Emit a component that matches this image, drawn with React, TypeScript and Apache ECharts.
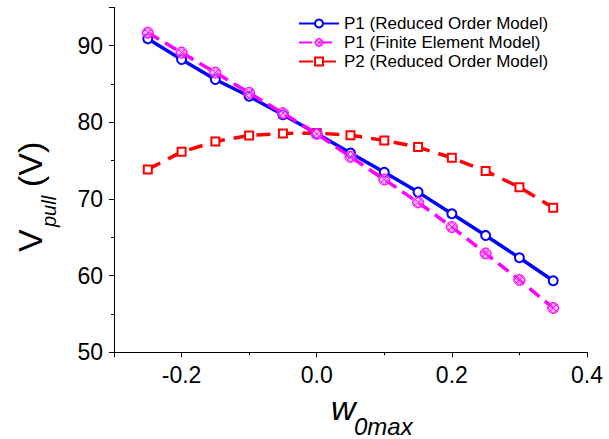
import React, { useEffect, useRef } from 'react';
import * as echarts from 'echarts';

const xValues = [-0.25, -0.2, -0.15, -0.1, -0.05, 0, 0.05, 0.1, 0.15, 0.2, 0.25, 0.3, 0.35];
const p1Rom = [90.9, 88.2, 85.6, 83.4, 81.0, 78.55, 76.0, 73.5, 70.9, 68.07, 65.25, 62.33, 59.34];
const p1Fem = [91.7, 89.1, 86.5, 83.85, 81.2, 78.5, 75.5, 72.55, 69.56, 66.34, 62.9, 59.43, 55.78];
const p2Rom = [73.86, 76.15, 77.5, 78.3, 78.55, 78.6, 78.33, 77.64, 76.77, 75.37, 73.64, 71.55, 68.85];
const seriesNames = ['P1 (Reduced Order Model)', 'P1 (Finite Element Model)', 'P2 (Reduced Order Model)'];

const FONT = '"Liberation Sans", Arial, sans-serif';
const hatchSymbol = 'path://M5,0A5,5 0 1 1 4.99,0ZM1.5,1.5L8.5,8.5M8.5,1.5L1.5,8.5M0,5L5,0L10,5L5,10Z';
const hatchStyle = { color: 'rgba(255,150,255,0.55)', borderColor: '#FF00FF', borderWidth: 1 };

const pairs = (ys: number[]) => xValues.map((x, i) => [x, ys[i]]);

export default function App() {
  const ref = useRef<HTMLDivElement>(null);
  useEffect(() => {
    if (!ref.current) return;
    const chart = echarts.init(ref.current, null, { renderer: 'svg' });
    chart.setOption({
      animation: false,
      backgroundColor: '#fff',
      grid: { left: 114, right: 22, top: 7.4, bottom: 86.7, containLabel: false },
      legend: {
        orient: 'vertical',
        left: 293,
        top: 9,
        itemWidth: 40,
        itemHeight: 10,
        itemGap: 0,
        data: [
          { name: seriesNames[0] },
          { name: seriesNames[1], itemStyle: hatchStyle },
          { name: seriesNames[2] },
        ],
        textStyle: { fontFamily: FONT, fontSize: 17, color: '#000', lineHeight: 19 },
      },
      xAxis: [
        {
          type: 'value', min: -0.3, max: 0.4, interval: 0.1,
          axisLine: { show: true, onZero: false, lineStyle: { color: '#000', width: 1 } },
          axisTick: { show: true, length: 3, lineStyle: { color: '#000' } },
          splitLine: { show: false },
          axisLabel: {
            fontFamily: FONT, fontSize: 23, color: '#000', margin: 11,
            formatter: (v: number) => (Math.round(v * 10) % 2 === 0 ? v.toFixed(1) : ''),
          },
        },
        {
          type: 'value', min: -0.3, max: 0.4, splitNumber: 4, position: 'bottom',
          axisLine: { show: false, onZero: false },
          axisTick: { show: true, length: 5, lineStyle: { color: '#000' } },
          splitLine: { show: false },
          axisLabel: { show: false },
        },
      ],
      yAxis: [
        {
          type: 'value', min: 50, max: 95, interval: 10,
          axisLine: { show: true, onZero: false, lineStyle: { color: '#000', width: 1 } },
          axisTick: { show: true, length: 5, lineStyle: { color: '#000' } },
          splitLine: { show: false },
          axisLabel: {
            fontFamily: FONT, fontSize: 23, color: '#000', margin: 11,
            formatter: (v: number) => (v === 95 ? '' : String(v)),
          },
        },
        {
          type: 'value', min: 50, max: 95, interval: 5, position: 'left',
          axisLine: { show: false, onZero: false },
          axisTick: { show: true, length: 3, lineStyle: { color: '#000' } },
          splitLine: { show: false },
          axisLabel: { show: false },
        },
      ],
      series: [
        {
          name: seriesNames[0], type: 'line', data: pairs(p1Rom), z: 3,
          symbol: 'emptyCircle', symbolSize: 9,
          lineStyle: { color: '#0000FF', width: 3.5, type: 'solid' },
          itemStyle: { color: '#0000FF', borderColor: '#0000FF', borderWidth: 1.3 },
        },
        {
          name: seriesNames[1], type: 'line', data: pairs(p1Fem), z: 4,
          symbol: hatchSymbol, symbolSize: 11,
          lineStyle: { color: '#FF00FF', width: 3.5, type: [13, 7] },
          itemStyle: hatchStyle,
        },
        {
          name: seriesNames[2], type: 'line', data: pairs(p2Rom), z: 2,
          symbol: 'emptyRect', symbolSize: 8,
          lineStyle: { color: '#FF0000', width: 3.5, type: [14, 9] },
          itemStyle: { color: '#FF0000', borderColor: '#FF0000', borderWidth: 1.2 },
        },
      ],
      graphic: [
        {
          type: 'group', x: 29.5, y: 252, rotation: Math.PI / 2,
          children: [
            { type: 'text', x: 0, y: 0, style: { text: 'V', font: `34px ${FONT}`, fill: '#000', align: 'left', verticalAlign: 'middle' } },
            { type: 'text', x: 25, y: 19.5, style: { text: 'pull', font: `italic 20px ${FONT}`, fill: '#000', align: 'left', verticalAlign: 'middle' } },
            { type: 'text', x: 65, y: 0, style: { text: '(V)', font: `34px ${FONT}`, fill: '#000', align: 'left', verticalAlign: 'middle' } },
          ],
        },
        { type: 'text', x: 331, y: 408, style: { text: 'w', font: `italic 34px ${FONT}`, fill: '#000', align: 'left', verticalAlign: 'middle' } },
        { type: 'text', x: 354, y: 426.7, style: { text: '0max', font: `italic 24px ${FONT}`, fill: '#000', align: 'left', verticalAlign: 'middle' } },
      ],
    });
    return () => chart.dispose();
  }, []);
  return <div ref={ref} style={{ position: 'fixed', left: 0, top: 0, width: 609, height: 439 }} />;
}
